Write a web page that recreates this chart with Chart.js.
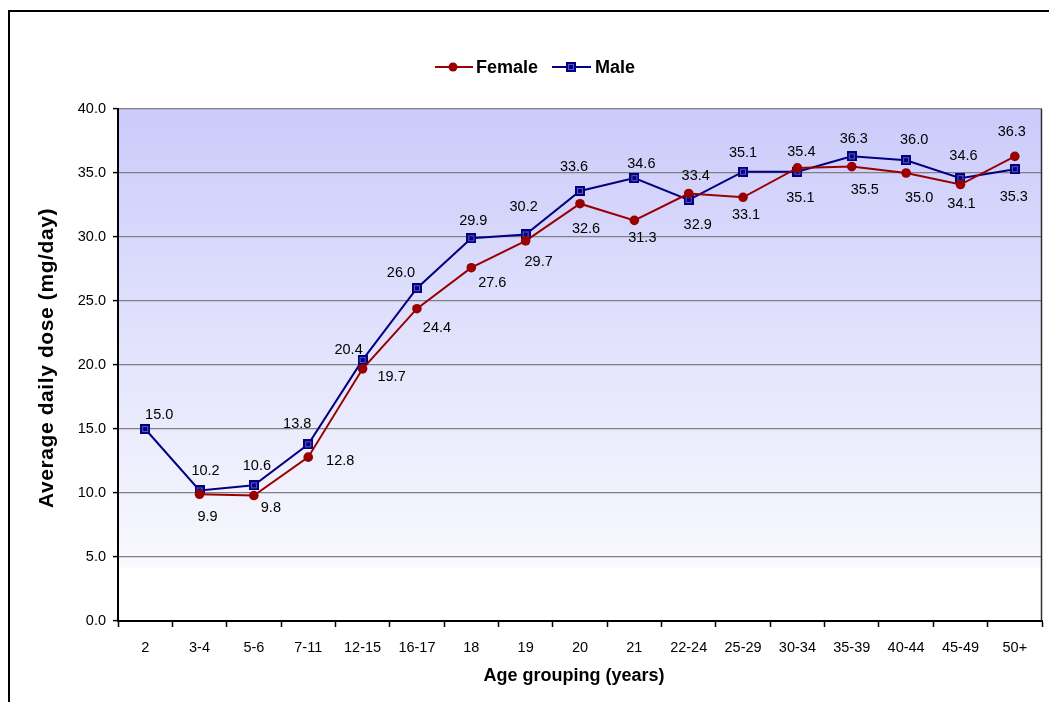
<!DOCTYPE html>
<html>
<head>
<meta charset="utf-8">
<script src="https://cdn.jsdelivr.net/npm/chart.js@4"></script>
<style>
  html, body { margin: 0; padding: 0; background: #ffffff; }
  #wrap { width: 1049px; height: 702px; }
</style>
</head>
<body>
<div id="wrap"><canvas id="chart" width="1049" height="702"></canvas></div>
<script>
// Age groups on the category axis
const ageGroups = ['2', '3-4', '5-6', '7-11', '12-15', '16-17', '18', '19', '20', '21',
                   '22-24', '25-29', '30-34', '35-39', '40-44', '45-49', '50+'];

// Average daily dose (mg/day) by age group
const femaleDose = [null, 9.9, 9.8, 12.8, 19.7, 24.4, 27.6, 29.7, 32.6, 31.3,
                    33.4, 33.1, 35.4, 35.5, 35.0, 34.1, 36.3];
const maleDose   = [15.0, 10.2, 10.6, 13.8, 20.4, 26.0, 29.9, 30.2, 33.6, 34.6,
                    32.9, 35.1, 35.1, 36.3, 36.0, 34.6, 35.3];

// Value axis ticks
const doseTicks = [0, 5, 10, 15, 20, 25, 30, 35, 40];

// Text
const seriesNames = ['Female', 'Male'];
const xTitle = 'Age grouping (years)';
const yTitle = 'Average daily dose (mg/day)';

// Label nudges in pixels [dx, dy] from each point
const femaleLabelNudge = [[0,0],[8,23],[17,12],[32,4],[29,8],[20,19],[21,15],[13,21],[6,25],[8,18],
                          [7,-17],[3,18],[4,-16],[13,23],[13,25],[1,19],[-3,-24]];
const maleLabelNudge   = [[14,-14],[6,-19],[3,-19],[-11,-20],[-14,-10],[-16,-15],[2,-17],[-2,-27],[-6,-24],[7,-14],
                          [9,25],[0,-19],[3,26],[2,-17],[8,-20],[3,-22],[-1,28]];

const FONT = "'Liberation Sans', Arial, Helvetica, sans-serif";
const FEMALE_COLOR = '#990000';
const MALE_COLOR = '#000080';

// Square marker with a lighter inner outline
function makeSquareMarker() {
  const c = document.createElement('canvas');
  c.width = 10; c.height = 10;
  const g = c.getContext('2d');
  g.fillStyle = MALE_COLOR;
  g.fillRect(0, 0, 10, 10);
  g.strokeStyle = '#5a5ac0';
  g.lineWidth = 1;
  g.strokeRect(2.5, 2.5, 5, 5);
  return c;
}
const squareMarker = makeSquareMarker();

// Plot background, frame and outer border
const backdrop = {
  id: 'backdrop',
  beforeDraw(chart) {
    const { ctx, chartArea: a } = chart;
    ctx.save();
    ctx.fillStyle = '#ffffff';
    ctx.fillRect(0, 0, chart.width, chart.height);
    const fadeEnd = chart.scales.y.getPixelForValue(4.2);
    const grad = ctx.createLinearGradient(0, a.top, 0, fadeEnd);
    grad.addColorStop(0, '#cbcbfb');
    grad.addColorStop(1, '#f9f9fe');
    ctx.fillStyle = grad;
    ctx.fillRect(a.left, a.top, a.right - a.left, fadeEnd - a.top);
    // outer chart border
    ctx.strokeStyle = '#000000';
    ctx.lineWidth = 2;
    ctx.strokeRect(9, 11, 1100, 800);
    ctx.restore();
  },
  afterDatasetsDraw(chart) {
    const { ctx, chartArea: a } = chart;
    ctx.save();
    ctx.strokeStyle = '#303030';
    ctx.lineWidth = 1.5;
    ctx.beginPath();
    ctx.moveTo(a.right - 0.5, a.top);
    ctx.lineTo(a.right - 0.5, a.bottom);
    ctx.stroke();
    ctx.restore();
  }
};

// Value labels next to each point
const valueLabels = {
  id: 'valueLabels',
  afterDatasetsDraw(chart) {
    const { ctx } = chart;
    const nudges = [femaleLabelNudge, maleLabelNudge];
    ctx.save();
    ctx.font = `14.5px ${FONT}`;
    ctx.fillStyle = '#000000';
    ctx.textAlign = 'center';
    ctx.textBaseline = 'middle';
    chart.data.datasets.forEach((ds, di) => {
      const meta = chart.getDatasetMeta(di);
      meta.data.forEach((pt, i) => {
        const v = ds.data[i];
        if (v === null || v === undefined) return;
        const [dx, dy] = nudges[di][i];
        ctx.fillText(v.toFixed(1), pt.x + dx, pt.y + dy);
      });
    });
    ctx.restore();
  }
};

// Legend and axis titles
const annotations = {
  id: 'annotations',
  afterDraw(chart) {
    const { ctx } = chart;
    ctx.save();
    // legend
    const ly = 67;
    ctx.lineWidth = 2;
    ctx.strokeStyle = FEMALE_COLOR;
    ctx.beginPath(); ctx.moveTo(435, ly); ctx.lineTo(473, ly); ctx.stroke();
    ctx.fillStyle = FEMALE_COLOR;
    ctx.beginPath(); ctx.arc(453, ly, 4.5, 0, Math.PI * 2); ctx.fill();
    ctx.strokeStyle = MALE_COLOR;
    ctx.beginPath(); ctx.moveTo(552, ly); ctx.lineTo(591, ly); ctx.stroke();
    ctx.drawImage(squareMarker, 566, ly - 5);
    ctx.fillStyle = '#000000';
    ctx.font = `bold 18px ${FONT}`;
    ctx.textAlign = 'left';
    ctx.textBaseline = 'middle';
    ctx.fillText(seriesNames[0], 476, ly + 1);
    ctx.fillText(seriesNames[1], 595, ly + 1);
    // x title
    ctx.textAlign = 'center';
    ctx.fillText(xTitle, 574, 676);
    // y title
    ctx.translate(47, 358);
    ctx.rotate(-Math.PI / 2);
    ctx.font = `bold 21px ${FONT}`;
    if ('letterSpacing' in ctx) ctx.letterSpacing = '0.6px';
    ctx.fillText(yTitle, 0, 0);
    ctx.restore();
  }
};

new Chart(document.getElementById('chart'), {
  type: 'line',
  data: {
    labels: ageGroups,
    datasets: [
      {
        label: seriesNames[0],
        data: femaleDose,
        borderColor: FEMALE_COLOR,
        backgroundColor: FEMALE_COLOR,
        borderWidth: 2,
        pointStyle: 'circle',
        pointRadius: 4.8,
        pointBorderWidth: 0,
        pointBackgroundColor: FEMALE_COLOR,
        tension: 0,
        spanGaps: false
      },
      {
        label: seriesNames[1],
        data: maleDose,
        borderColor: MALE_COLOR,
        backgroundColor: MALE_COLOR,
        borderWidth: 2,
        pointStyle: squareMarker,
        pointRadius: 5,
        tension: 0
      }
    ]
  },
  options: {
    responsive: false,
    animation: false,
    events: [],
    layout: { padding: { top: 109, right: 4, bottom: 0, left: 0 } },
    plugins: {
      legend: { display: false },
      title: { display: false },
      tooltip: { enabled: false }
    },
    scales: {
      x: {
        offset: true,
        afterFit(scale) { scale.height = 81; },
        grid: {
          offset: true,
          drawOnChartArea: false,
          drawTicks: true,
          tickLength: 6,
          tickColor: '#000000',
          tickWidth: 1.5
        },
        border: { color: '#000000', width: 2 },
        ticks: {
          color: '#000000',
          font: { family: FONT, size: 14.5 },
          padding: 12,
          maxRotation: 0,
          autoSkip: false
        }
      },
      y: {
        min: doseTicks[0],
        max: doseTicks[doseTicks.length - 1],
        afterFit(scale) { scale.width = 118; },
        afterBuildTicks(scale) { scale.ticks = doseTicks.map(v => ({ value: v })); },
        grid: {
          color: '#808080',
          lineWidth: 1.2,
          drawTicks: true,
          tickLength: 5,
          tickColor: '#000000',
          tickWidth: 1.5
        },
        border: { color: '#000000', width: 2 },
        ticks: {
          color: '#000000',
          font: { family: FONT, size: 14.5 },
          padding: 7,
          callback: v => Number(v).toFixed(1)
        }
      }
    }
  },
  plugins: [backdrop, valueLabels, annotations]
});
</script>
</body>
</html>
